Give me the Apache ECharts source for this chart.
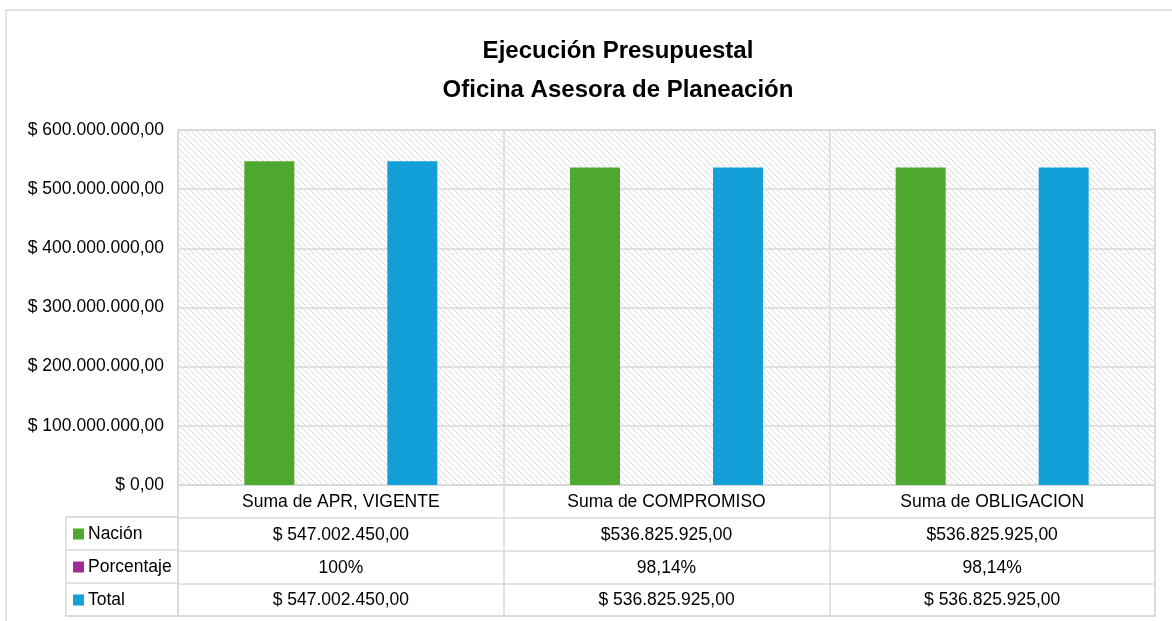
<!DOCTYPE html>
<html>
<head>
<meta charset="utf-8">
<script src="https://cdn.jsdelivr.net/npm/echarts@6/dist/echarts.min.js"></script>
<style>
html,body{margin:0;padding:0;background:#fff;}
#c{width:1172px;height:621px;}
</style>
</head>
<body>
<div id="c"></div>
<script>
// ---- data ----
const categories = ['Suma de APR, VIGENTE', 'Suma de COMPROMISO', 'Suma de OBLIGACION'];
const seriesNames = ['Nación', 'Porcentaje', 'Total'];
const nacion = [547002450, 536825925, 536825925];
const porcentaje = [1, 0.9814, 0.9814];
const total = [547002450, 536825925, 536825925];
const nacionLabels = ['$ 547.002.450,00', '$536.825.925,00', '$536.825.925,00'];
const porcentajeLabels = ['100%', '98,14%', '98,14%'];
const totalLabels = ['$ 547.002.450,00', '$ 536.825.925,00', '$ 536.825.925,00'];
const yTicks = [0, 100000000, 200000000, 300000000, 400000000, 500000000, 600000000];
const colors = ['#4ea72e', '#a02b93', '#139fd7'];

const FONT = '"Liberation Sans", Arial, sans-serif';
const GRAY = '#d9d9d9';
const FS = 17.5;

function fmtMoney(v) {
  return '$ ' + String(v).replace(/\B(?=(\d{3})+(?!\d))/g, '.') + ',00';
}

// hatch pattern
const pc = document.createElement('canvas');
pc.width = 6; pc.height = 6;
const pctx = pc.getContext('2d');
pctx.fillStyle = '#ffffff';
pctx.fillRect(0, 0, 6, 6);
for (let i = 0; i < 6; i++) {
  pctx.fillStyle = (i % 2 === 0) ? '#cdcdcd' : '#ebebeb';
  pctx.fillRect(i, i, 1, 1);
}

const rowLabels = [nacionLabels, porcentajeLabels, totalLabels];
const cellData = [];
for (let r = 0; r < 3; r++) for (let c = 0; c < 3; c++) cellData.push([c, r + 1, r, c]);

const chart = echarts.init(document.getElementById('c'));
chart.setOption({
  backgroundColor: '#fff',
  animation: false,
  title: {
    text: 'Ejecución Presupuestal\nOficina Asesora de Planeación',
    left: 613, top: 27, textAlign: 'center',
    textStyle: { fontFamily: FONT, fontSize: 24, fontWeight: 'bold', color: '#000', lineHeight: 39 }
  },
  graphic: [{
    type: 'rect', shape: { x: 6, y: 10, width: 1200, height: 640 },
    style: { fill: 'none', stroke: GRAY, lineWidth: 1.5 }, silent: true, z: -1
  }],
  grid: [
    { left: 178, top: 130, width: 977, height: 355, show: true, borderColor: GRAY, borderWidth: 1.5,
      backgroundColor: { image: pc, repeat: 'repeat' } },
    { left: 178, top: 485, width: 977, height: 131, show: true, borderColor: GRAY, borderWidth: 1.5, backgroundColor: '#fff' },
    { left: 66, top: 517, width: 112, height: 99, show: true, borderColor: GRAY, borderWidth: 1.5, backgroundColor: '#fff' }
  ],
  xAxis: [
    { gridIndex: 0, type: 'category', data: categories,
      axisLine: { show: true, lineStyle: { color: GRAY, width: 1.5 } }, axisTick: { show: false },
      splitLine: { show: true, lineStyle: { color: GRAY, width: 1.5 } },
      axisLabel: { fontFamily: FONT, fontSize: FS, color: '#000', margin: 8 } },
    { gridIndex: 1, type: 'category', data: categories,
      axisLine: { show: false }, axisTick: { show: false }, axisLabel: { show: false },
      splitLine: { show: true, lineStyle: { color: GRAY, width: 1.5 } } },
    { gridIndex: 2, type: 'value', min: 0, max: 1, show: false }
  ],
  yAxis: [
    { gridIndex: 0, type: 'value', min: 0, max: 600000000, interval: 100000000,
      axisLine: { show: false }, axisTick: { show: false },
      splitLine: { show: true, lineStyle: { color: GRAY, width: 1.5 } },
      axisLabel: { fontFamily: FONT, fontSize: FS, color: '#000', margin: 14,
        formatter: v => yTicks.indexOf(v) >= 0 ? (v === 0 ? '$ 0,00' : fmtMoney(v)) : '' } },
    { gridIndex: 1, type: 'category', inverse: true, data: ['', ...seriesNames],
      axisLine: { show: false }, axisTick: { show: false }, axisLabel: { show: false },
      splitLine: { show: true, lineStyle: { color: GRAY, width: 1.5 } } },
    { gridIndex: 2, type: 'category', inverse: true, data: seriesNames,
      axisLine: { show: false }, axisTick: { show: false }, axisLabel: { show: false },
      splitLine: { show: true, lineStyle: { color: GRAY, width: 1.5 } } }
  ],
  series: [
    { name: 'Nación', type: 'bar', xAxisIndex: 0, yAxisIndex: 0, data: nacion, barWidth: 50, barGap: '43%', itemStyle: { color: colors[0] } },
    { name: 'Porcentaje', type: 'bar', xAxisIndex: 0, yAxisIndex: 0, data: porcentaje, barWidth: 50, barGap: '43%', itemStyle: { color: colors[1] } },
    { name: 'Total', type: 'bar', xAxisIndex: 0, yAxisIndex: 0, data: total, barWidth: 50, barGap: '43%', itemStyle: { color: colors[2] } },
    { type: 'custom', xAxisIndex: 1, yAxisIndex: 1, data: cellData, silent: true,
      renderItem: (params, api) => {
        const d = cellData[params.dataIndex];
        const p = api.coord([api.value(0), api.value(1)]);
        return { type: 'text', x: p[0], y: p[1] + 1,
          style: { text: rowLabels[d[2]][d[3]], fontFamily: FONT, fontSize: FS, fill: '#000', align: 'center', verticalAlign: 'middle' } };
      } },
    { type: 'custom', xAxisIndex: 2, yAxisIndex: 2, data: [[0, 0], [0, 1], [0, 2]], silent: true,
      renderItem: (params, api) => {
        const i = params.dataIndex;
        const p = api.coord([api.value(0), api.value(1)]);
        return { type: 'group', children: [
          { type: 'rect', shape: { x: p[0] + 7, y: p[1] - 5, width: 11, height: 11 }, style: { fill: colors[i] } },
          { type: 'text', x: p[0] + 22, y: p[1] + 1,
            style: { text: seriesNames[i], fontFamily: FONT, fontSize: FS, fill: '#000', align: 'left', verticalAlign: 'middle' } }
        ] };
      } }
  ]
});
</script>
</body>
</html>
